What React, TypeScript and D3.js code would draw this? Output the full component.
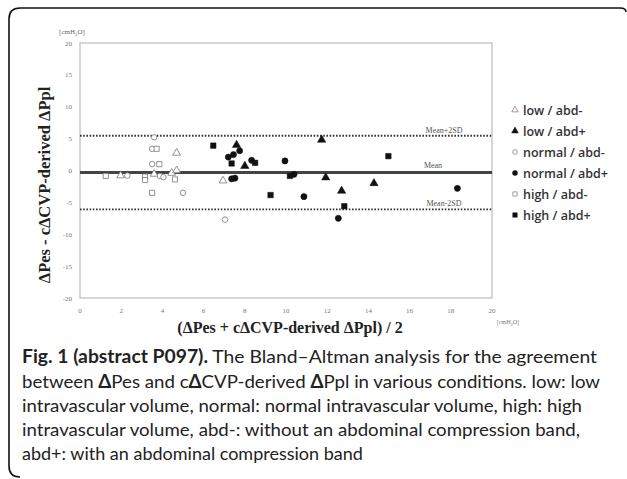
import React from "react";
import * as d3 from "d3";

const xTicks = [0, 2, 4, 6, 8, 10, 12, 14, 16, 18, 20];
const yTicks = [-20, -15, -10, -5, 0, 5, 10, 15, 20];

const lowAbdMinus: [number, number][] = [[1.97, -0.8], [3.6, -0.55], [4.45, -0.4], [4.69, 0.0], [4.69, 2.75], [6.94, -1.6]];
const lowAbdPlus: [number, number][] = [[7.6, 4.0], [8.0, 0.7], [11.73, 4.8], [11.93, -1.1], [12.7, -3.2], [14.27, -2.0]];
const normalAbdMinus: [number, number][] = [[2.3, -0.8], [3.6, 5.2], [3.5, 3.4], [3.5, 1.0], [3.88, -0.85], [4.05, -1.05], [5.0, -3.5], [7.04, -7.7]];
const normalAbdPlus: [number, number][] = [[7.2, 2.1], [7.45, 2.5], [7.75, 3.1], [7.36, -1.3], [7.52, -1.2], [8.33, 1.6], [9.95, 1.5], [10.39, -0.6], [10.87, -4.1], [12.54, -7.5], [18.32, -2.8]];
const highAbdMinus: [number, number][] = [[1.25, -0.85], [3.16, -0.95], [3.16, -1.5], [3.72, 3.4], [3.85, 1.0], [4.61, -1.4], [3.5, -3.5]];
const highAbdPlus: [number, number][] = [[6.47, 3.9], [7.36, 1.1], [8.5, 1.2], [10.19, -0.85], [9.25, -3.85], [12.83, -5.6], [14.97, 2.25]];

const meanValue = -0.3;
const upperLimit = 5.45;
const lowerLimit = -6.1;

const seriesNames = ["low / abd-", "low / abd+", "normal / abd-", "normal / abd+", "high / abd-", "high / abd+"];

const captionLines = [
  "The Bland\u2013Altman analysis for the agreement",
  "between \u0394Pes and c\u0394CVP-derived \u0394Ppl in various conditions. low: low",
  "intravascular volume, normal: normal intravascular volume, high: high",
  "intravascular volume, abd-: without an abdominal compression band,",
  "abd+: with an abdominal compression band",
];

const series = [
  { name: seriesNames[0], data: lowAbdMinus, type: d3.symbolTriangle, filled: false, size: 26 },
  { name: seriesNames[1], data: lowAbdPlus, type: d3.symbolTriangle, filled: true, size: 30 },
  { name: seriesNames[2], data: normalAbdMinus, type: d3.symbolCircle, filled: false, size: 24 },
  { name: seriesNames[3], data: normalAbdPlus, type: d3.symbolCircle, filled: true, size: 30 },
  { name: seriesNames[4], data: highAbdMinus, type: d3.symbolSquare, filled: false, size: 26 },
  { name: seriesNames[5], data: highAbdPlus, type: d3.symbolSquare, filled: true, size: 30 },
];

const W = 627, H = 479;
const plot = { left: 80, right: 492, top: 43, bottom: 298 };

function renderDelta(s: string) {
  const parts = s.split("\u0394");
  const out: React.ReactNode[] = [];
  parts.forEach((p, i) => {
    if (i > 0) out.push(<tspan key={"d" + i} fontWeight="bold">{"\u0394"}</tspan>);
    out.push(<tspan key={"p" + i}>{p}</tspan>);
  });
  return out;
}

export default function App() {
  const x = d3.scaleLinear().domain([0, 20]).range([plot.left, plot.right]);
  const y = d3.scaleLinear().domain([-20, 20]).range([plot.bottom, plot.top]);
  const serif = "'Liberation Serif', 'DejaVu Serif', serif";
  const sans = "'Open Sans', 'Noto Sans', sans-serif";
  const capFont = "Lato, 'Open Sans', sans-serif";
  const captionEnds = [597, 600, 582, 580, 0];
  const captionBase = [363, 387.5, 412, 436, 460];

  return (
    <svg width={W} height={H} style={{ position: "absolute", left: 0, top: 0, background: "#fff" }}>
      {/* outer frame */}
      <path d={`M 626 12 Q 626 8 620 8 L 20 8 Q 9 8 9 19 L 9 466 Q 9 477 20 477`} fill="none" stroke="#111" strokeWidth={1.6} />

      {/* plot border */}
      <rect x={plot.left} y={plot.top} width={plot.right - plot.left} height={plot.bottom - plot.top} fill="none" stroke="#bbb" strokeWidth={1.2} />

      {/* ticks */}
      {yTicks.map((t) => (
        <text key={"y" + t} x={72} y={y(t) + 2.5} textAnchor="end" fontFamily={serif} fontSize={7} fill="#777">{t}</text>
      ))}
      {xTicks.map((t) => (
        <text key={"x" + t} x={x(t)} y={313} textAnchor="middle" fontFamily={serif} fontSize={7} fill="#777">{t}</text>
      ))}
      <text x={72} y={34} textAnchor="middle" fontFamily={serif} fontSize={7} fill="#666">
        [cmH<tspan fontSize={5} dy={2}>2</tspan><tspan dy={-2}>O]</tspan>
      </text>
      <text x={508} y={324} textAnchor="middle" fontFamily={serif} fontSize={6} fill="#777">
        [cmH<tspan fontSize={4.5} dy={1.5}>2</tspan><tspan dy={-1.5}>O]</tspan>
      </text>

      {/* reference lines */}
      <line x1={plot.left} x2={plot.right} y1={y(upperLimit)} y2={y(upperLimit)} stroke="#333" strokeWidth={1.8} strokeDasharray="1.6 1.6" />
      <line x1={plot.left} x2={plot.right} y1={y(lowerLimit)} y2={y(lowerLimit)} stroke="#333" strokeWidth={1.8} strokeDasharray="1.6 1.6" />
      <line x1={plot.left} x2={plot.right} y1={y(meanValue)} y2={y(meanValue)} stroke="#444" strokeWidth={3} />
      <text x={444} y={y(upperLimit) - 3} textAnchor="middle" fontFamily={serif} fontSize={8} fill="#555">Mean+2SD</text>
      <text x={433} y={y(meanValue) - 4} textAnchor="middle" fontFamily={serif} fontSize={8} fill="#555">Mean</text>
      <text x={444} y={y(lowerLimit) - 3} textAnchor="middle" fontFamily={serif} fontSize={8} fill="#555">Mean-2SD</text>

      {/* points */}
      {series.map((s) =>
        s.data.map((d, i) => (
          <path
            key={s.name + i}
            d={d3.symbol().type(s.type).size(s.size)() || ""}
            transform={`translate(${x(d[0])},${y(d[1])})`}
            fill={s.filled ? "#111" : "#fff"}
            stroke={s.filled ? "#111" : "#777"}
            strokeWidth={s.filled ? 0.5 : 0.8}
          />
        ))
      )}

      {/* axis titles */}
      <text x={0} y={0} transform={`translate(50,185) rotate(-90)`} textAnchor="middle" fontFamily={serif} fontSize={16.5} fontWeight="bold" fill="#222">
        {"\u0394Pes - c\u0394CVP-derived \u0394Ppl"}
      </text>
      <text x={290} y={333} textAnchor="middle" fontFamily={serif} fontSize={16} fontWeight="bold" fill="#222">
        {"(\u0394Pes + c\u0394CVP-derived \u0394Ppl) / 2"}
      </text>

      {/* legend */}
      {series.map((s, i) => {
        const ly = 110 + i * 21;
        return (
          <g key={"lg" + i}>
            <path
              d={d3.symbol().type(s.type).size(s.filled ? 20 : 18)() || ""}
              transform={`translate(515,${ly})`}
              fill={s.filled ? "#111" : "#fff"}
              stroke={s.filled ? "#111" : "#777"}
              strokeWidth={s.filled ? 0.5 : 0.7}
            />
            <text x={523} y={ly + 4.5} fontFamily={sans} fontSize={12.5} fontWeight={600} fill="#333">{s.name}</text>
          </g>
        );
      })}

      {/* caption */}
      {captionLines.map((line, i) => {
        const fit = captionEnds[i] > 0 ? { textLength: captionEnds[i] - 22, lengthAdjust: "spacingAndGlyphs" } : {};
        return (
          <text key={"c" + i} x={22} y={captionBase[i]} fontFamily={capFont} fontSize={18} fill="#222" {...fit}>
            {i === 0 ? (
              <>
                <tspan fontWeight="bold">Fig. 1 (abstract P097).</tspan>
                <tspan>{" " + line}</tspan>
              </>
            ) : (
              renderDelta(line)
            )}
          </text>
        );
      })}
    </svg>
  );
}
